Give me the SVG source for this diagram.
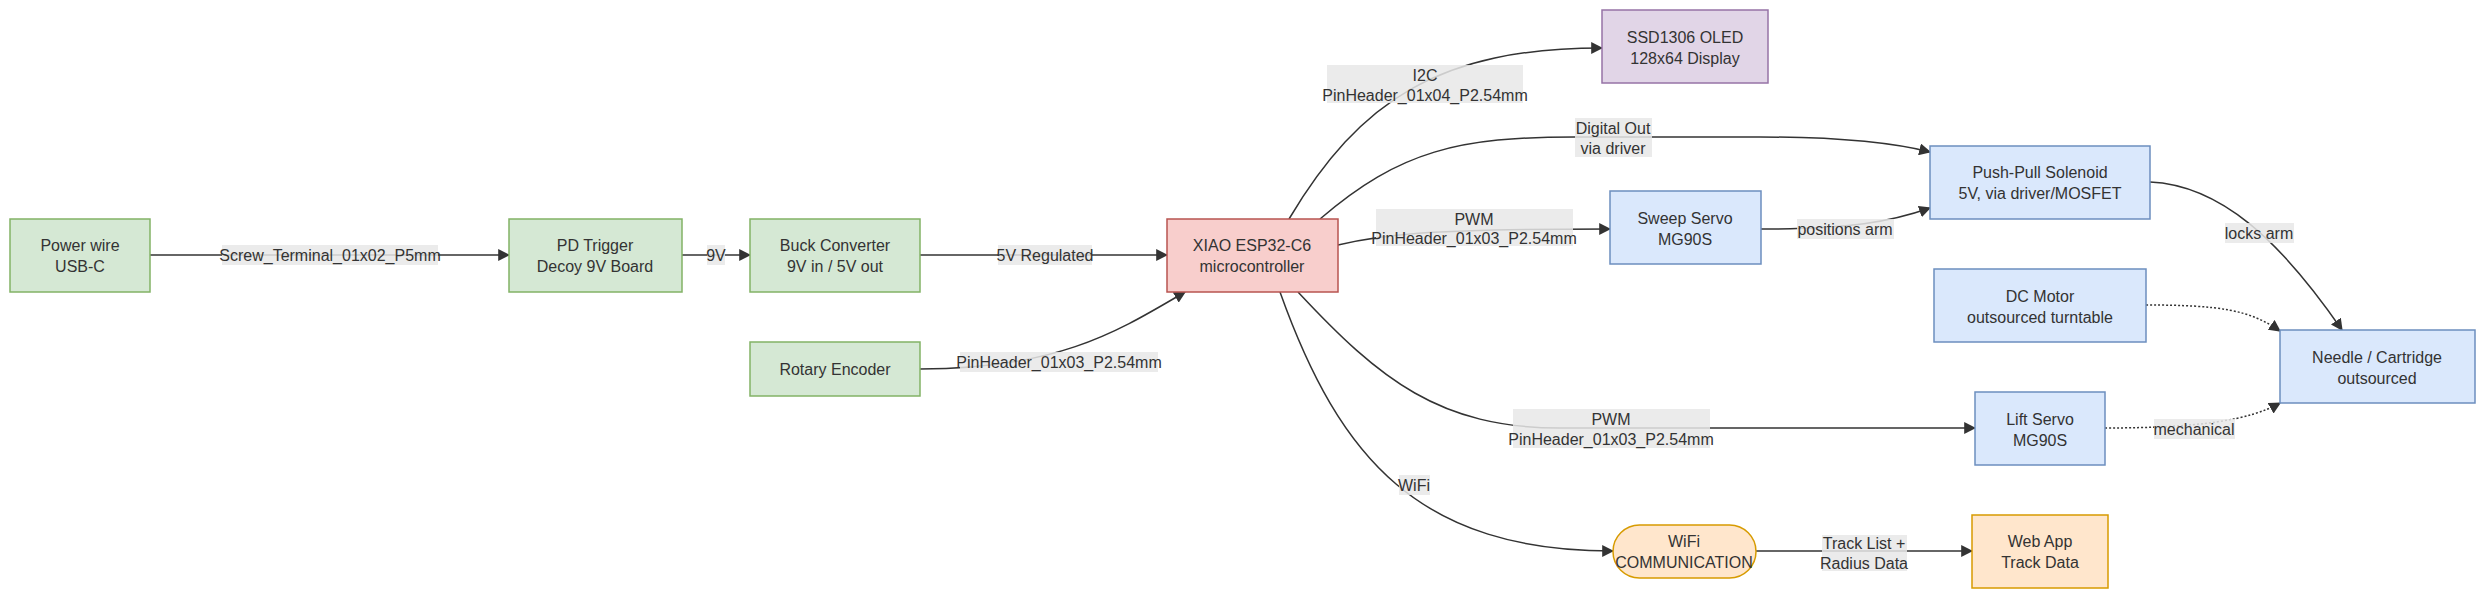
<svg xmlns="http://www.w3.org/2000/svg" width="2485" height="599" viewBox="0 0 2485 599">
<style>
text{font-family:"Liberation Sans",Arial,sans-serif;font-size:16px;fill:#333;text-anchor:middle;dominant-baseline:central}
.g{fill:#d5e8d4;stroke:#82b366;stroke-width:1.5}
.r{fill:#f8cecc;stroke:#b85450;stroke-width:1.5}
.p{fill:#e1d5e7;stroke:#9673a6;stroke-width:1.5}
.b{fill:#dae8fc;stroke:#6c8ebf;stroke-width:1.5}
.o{fill:#ffe6cc;stroke:#d79b00;stroke-width:1.5}
.e{fill:none;stroke:#333;stroke-width:1.5}
.d{stroke-dasharray:2 2}
.lb{fill:#e8e8e8;opacity:0.85}
</style>
<defs><marker id="a" viewBox="0 0 10 10" refX="9" refY="5" markerWidth="8" markerHeight="8" orient="auto"><path d="M0,0L10,5L0,10z" fill="#333"/></marker></defs>
<g id="connectors">
<path class="e" d="M150,255H509" marker-end="url(#a)"/>
<path class="e" d="M682,255H750" marker-end="url(#a)"/>
<path class="e" d="M920,255H1167" marker-end="url(#a)"/>
<path class="e" d="M920,369C1060,369 1120,330 1185,292" marker-end="url(#a)"/>
<path class="e" d="M1289,219C1360,100 1440,48 1602,48" marker-end="url(#a)"/>
<path class="e" d="M1320,219C1400,150 1460,137 1575,137H1760C1840,137 1890,142 1930,152" marker-end="url(#a)"/>
<path class="e" d="M1338,245C1380,235 1420,229 1610,229" marker-end="url(#a)"/>
<path class="e" d="M1761,229C1850,229 1890,222 1930,208" marker-end="url(#a)"/>
<path class="e" d="M2150,182C2220,185 2280,240 2342,330" marker-end="url(#a)"/>
<path class="e d" d="M2146,305C2220,305 2250,310 2280,331" marker-end="url(#a)"/>
<path class="e d" d="M2105,428C2200,428 2250,420 2280,403" marker-end="url(#a)"/>
<path class="e" d="M1298,292C1380,380 1440,428 1560,428H1975" marker-end="url(#a)"/>
<path class="e" d="M1280,292C1340,460 1420,551 1613,551" marker-end="url(#a)"/>
<path class="e" d="M1756,551H1972" marker-end="url(#a)"/>
</g>
<g id="labels">
<rect class="lb" x="222" y="245" width="216" height="20"/><text x="330" y="255">Screw_Terminal_01x02_P5mm</text>
<rect class="lb" x="707" y="245" width="18" height="20"/><text x="716" y="255">9V</text>
<rect class="lb" x="998" y="245" width="94" height="20"/><text x="1045" y="255">5V Regulated</text>
<rect class="lb" x="960" y="352" width="198" height="20"/><text x="1059" y="362">PinHeader_01x03_P2.54mm</text>
<rect class="lb" x="1327" y="65" width="196" height="38"/><text x="1425" y="75">I2C</text><text x="1425" y="95">PinHeader_01x04_P2.54mm</text>
<rect class="lb" x="1575" y="118" width="77" height="39"/><text x="1613" y="128">Digital Out</text><text x="1613" y="148">via driver</text>
<rect class="lb" x="1376" y="209" width="197" height="37"/><text x="1474" y="219">PWM</text><text x="1474" y="238">PinHeader_01x03_P2.54mm</text>
<rect class="lb" x="1797" y="219" width="97" height="20"/><text x="1845" y="229">positions arm</text>
<rect class="lb" x="2225" y="223" width="69" height="20"/><text x="2259" y="233">locks arm</text>
<rect class="lb" x="1513" y="409" width="197" height="39"/><text x="1611" y="419">PWM</text><text x="1611" y="439">PinHeader_01x03_P2.54mm</text>
<rect class="lb" x="2154" y="419" width="81" height="20"/><text x="2194" y="429">mechanical</text>
<rect class="lb" x="1399" y="475" width="31" height="20"/><text x="1414" y="485">WiFi</text>
<rect class="lb" x="1822" y="535" width="85" height="36"/><text x="1864" y="543">Track List +</text><text x="1864" y="563">Radius Data</text>
</g>
<g id="power"><rect class="g" x="10" y="219" width="140" height="73"/><text x="80" y="245">Power wire</text><text x="80" y="266">USB-C</text></g>
<g id="pd"><rect class="g" x="509" y="219" width="173" height="73"/><text x="595" y="245">PD Trigger</text><text x="595" y="266">Decoy 9V Board</text></g>
<g id="buck"><rect class="g" x="750" y="219" width="170" height="73"/><text x="835" y="245">Buck Converter</text><text x="835" y="266">9V in / 5V out</text></g>
<g id="rotary"><rect class="g" x="750" y="342" width="170" height="54"/><text x="835" y="369">Rotary Encoder</text></g>
<g id="xiao"><rect class="r" x="1167" y="219" width="171" height="73"/><text x="1252" y="245">XIAO ESP32-C6</text><text x="1252" y="266">microcontroller</text></g>
<g id="oled"><rect class="p" x="1602" y="10" width="166" height="73"/><text x="1685" y="37">SSD1306 OLED</text><text x="1685" y="58">128x64 Display</text></g>
<g id="solenoid"><rect class="b" x="1930" y="146" width="220" height="73"/><text x="2040" y="172">Push-Pull Solenoid</text><text x="2040" y="193">5V, via driver/MOSFET</text></g>
<g id="sweep"><rect class="b" x="1610" y="191" width="151" height="73"/><text x="1685" y="218">Sweep Servo</text><text x="1685" y="239">MG90S</text></g>
<g id="dcmotor"><rect class="b" x="1934" y="269" width="212" height="73"/><text x="2040" y="296">DC Motor</text><text x="2040" y="317">outsourced turntable</text></g>
<g id="needle"><rect class="b" x="2280" y="330" width="195" height="73"/><text x="2377" y="357">Needle / Cartridge</text><text x="2377" y="378">outsourced</text></g>
<g id="lift"><rect class="b" x="1975" y="392" width="130" height="73"/><text x="2040" y="419">Lift Servo</text><text x="2040" y="440">MG90S</text></g>
<g id="wifi"><rect class="o" x="1613" y="525" width="143" height="53" rx="26.5"/><text x="1684" y="541">WiFi</text><text x="1684" y="562">COMMUNICATION</text></g>
<g id="webapp"><rect class="o" x="1972" y="515" width="136" height="73"/><text x="2040" y="541">Web App</text><text x="2040" y="562">Track Data</text></g>
</svg>
